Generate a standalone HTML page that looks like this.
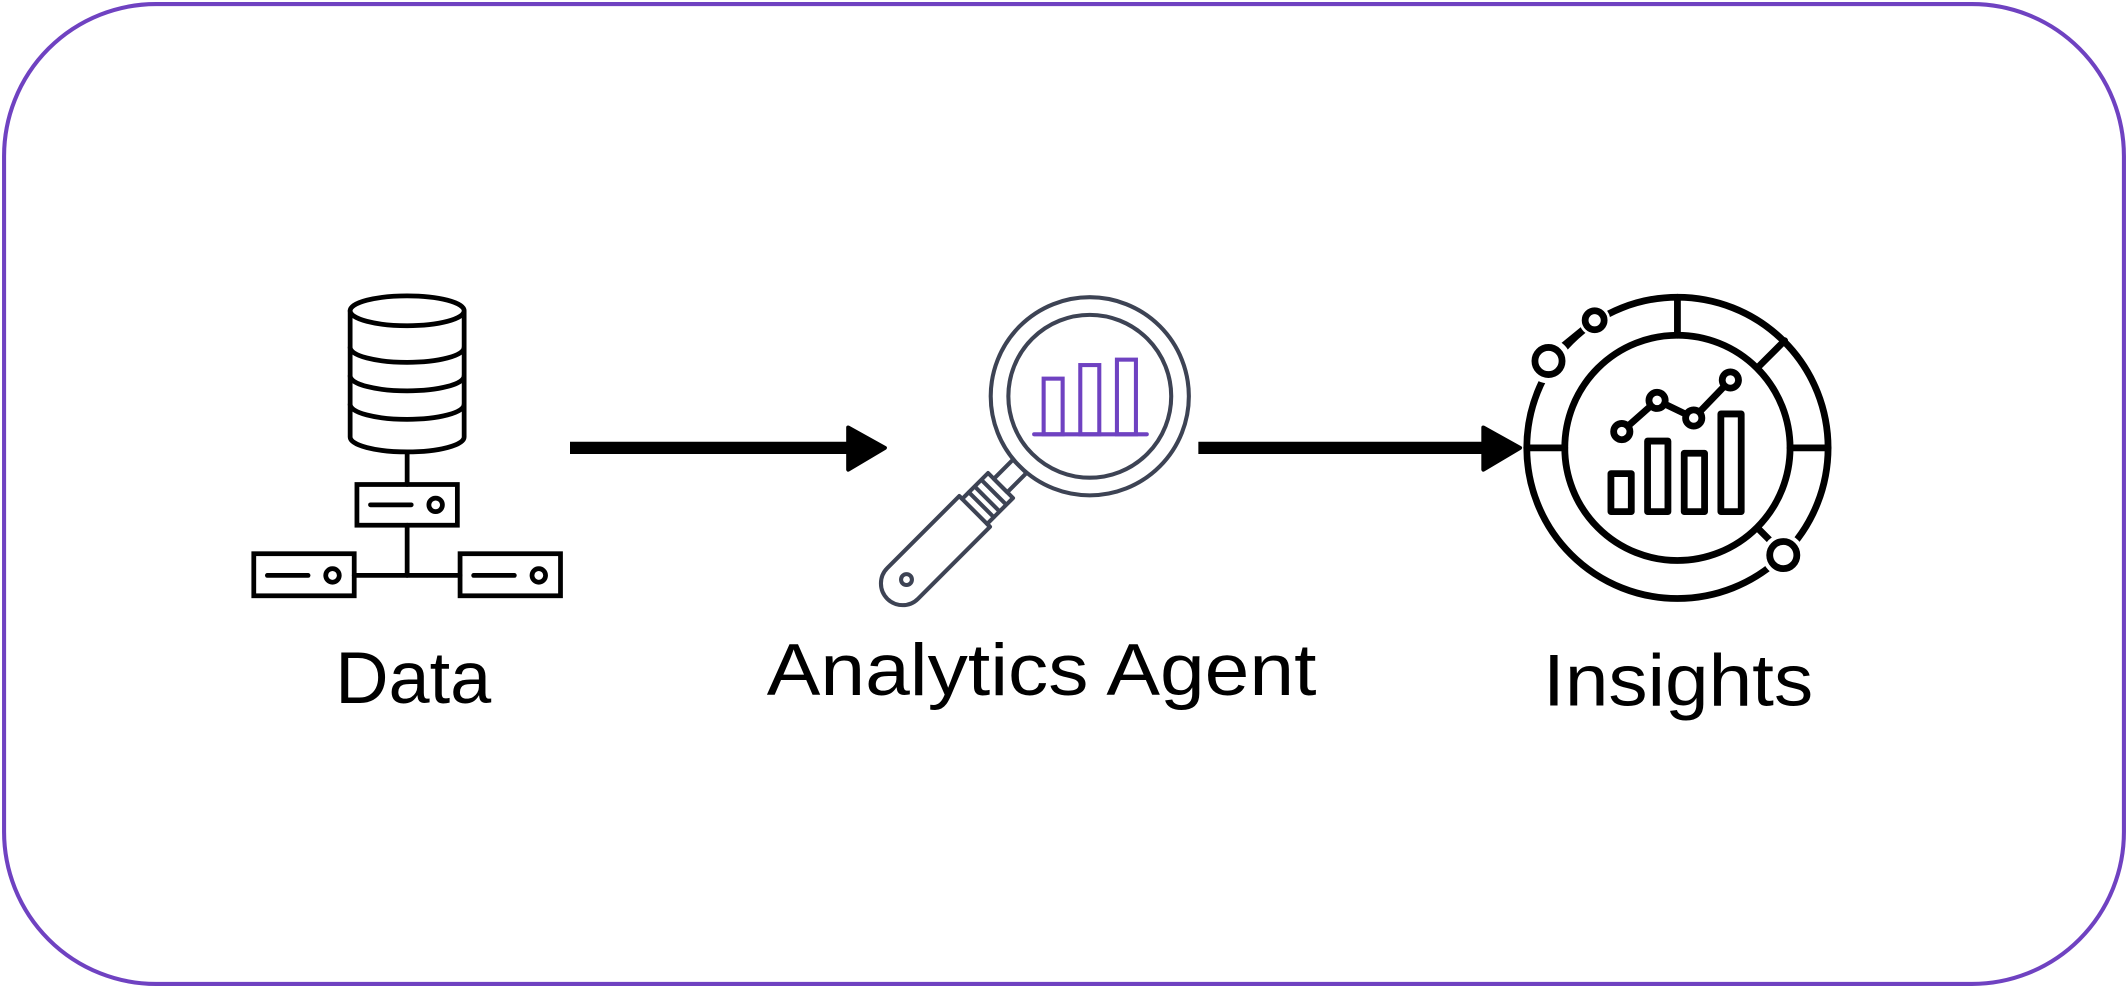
<!DOCTYPE html>
<html><head><meta charset="utf-8"><style>html,body{margin:0;padding:0;background:#fff}svg{display:block}</style></head>
<body>
<svg width="2128" height="988" viewBox="0 0 1568 728" xmlns="http://www.w3.org/2000/svg">
<rect x="3" y="3" width="1562" height="722" rx="112" fill="#fff" stroke="#6f42c1" stroke-width="3"/>
<!-- Data icon -->
<g fill="none" stroke="#000" stroke-width="3.5" stroke-linecap="round">
<path d="M258 229 V322 A42 11 0 0 0 342 322 V229"/>
<ellipse cx="300" cy="229" rx="42" ry="11" fill="#fff"/>
<path d="M258 256 A42 11 0 0 0 342 256 M258 277 A42 11 0 0 0 342 277 M258 298 A42 11 0 0 0 342 298"/>
<line x1="300" y1="334" x2="300" y2="357"/>
<rect x="263" y="357" width="74" height="30"/>
<line x1="273" y1="372" x2="303" y2="372"/><circle cx="321" cy="372" r="5"/>
<line x1="300" y1="387" x2="300" y2="424"/>
<line x1="261" y1="424" x2="339" y2="424"/>
<rect x="187" y="408" width="74" height="31"/>
<line x1="197" y1="424" x2="227" y2="424"/><circle cx="245" cy="424" r="5"/>
<rect x="339" y="408" width="74" height="31"/>
<line x1="349" y1="424" x2="379" y2="424"/><circle cx="397" cy="424" r="5"/>
</g>
<!-- arrows -->
<line x1="420" y1="330" x2="630" y2="330" stroke="#000" stroke-width="9"/>
<path d="M625 315 L652 330 L625 346 Z" fill="#000" stroke="#000" stroke-width="3" stroke-linejoin="round"/>
<line x1="883" y1="330" x2="1098" y2="330" stroke="#000" stroke-width="9"/>
<path d="M1093 315 L1120 330 L1093 346 Z" fill="#000" stroke="#000" stroke-width="3" stroke-linejoin="round"/>
<!-- magnifier -->
<g fill="none" stroke="#3d4354" stroke-width="3" stroke-linejoin="round">
<circle cx="803" cy="292" r="73"/>
<circle cx="803" cy="292" r="60"/>
<g transform="translate(803 292) rotate(135)">
<rect x="73" y="-7" width="20" height="14"/>
<rect x="93" y="-13" width="20" height="26"/>
<line x1="100" y1="-13" x2="100" y2="13"/><line x1="107" y1="-13" x2="107" y2="13"/>
<path d="M113 -13 H120 V-16 H195 A16 16 0 0 1 195 16 H120 V13 H113"/>
<line x1="120" y1="-16" x2="120" y2="16"/>
<circle cx="191" cy="0" r="4"/>
</g>
</g>
<g fill="none" stroke="#6f42c1" stroke-width="3">
<rect x="769" y="279" width="14" height="41"/>
<rect x="796" y="269" width="14" height="51"/>
<rect x="823" y="265" width="14" height="55"/>
<line x1="762" y1="320" x2="845" y2="320" stroke-linecap="round"/>
</g>
<!-- insights -->
<g fill="none" stroke="#000" stroke-width="5" stroke-linecap="round" stroke-linejoin="round">
<circle cx="1236" cy="330" r="111"/>
<circle cx="1236" cy="330" r="83"/>
<line x1="1236" y1="219" x2="1236" y2="247"/>
<line x1="1125" y1="330" x2="1153" y2="330"/>
<line x1="1319" y1="330" x2="1347" y2="330"/>
<line x1="1295" y1="271" x2="1315" y2="251"/>
<line x1="1295" y1="389" x2="1310" y2="404"/>
<line x1="1148" y1="258" x2="1170" y2="240"/>
<circle cx="1141" cy="266" r="11" fill="#fff" stroke-width="11" stroke="#fff"/>
<circle cx="1141" cy="266" r="10" fill="#fff"/>
<circle cx="1175" cy="236" r="7" fill="#fff" stroke-width="9" stroke="#fff"/>
<circle cx="1175" cy="236" r="7" fill="#fff"/>
<circle cx="1314" cy="409" r="10" fill="#fff" stroke-width="11" stroke="#fff"/>
<circle cx="1314" cy="409" r="10" fill="#fff"/>
<rect x="1187" y="349" width="15" height="28"/>
<rect x="1214" y="325" width="15" height="52"/>
<rect x="1241" y="334" width="15" height="43"/>
<rect x="1268" y="305" width="15" height="72"/>
<polyline points="1195,318 1221,295 1248,308 1275,280"/>
<circle cx="1195" cy="318" r="6" fill="#fff"/>
<circle cx="1221" cy="295" r="6" fill="#fff"/>
<circle cx="1248" cy="308" r="6" fill="#fff"/>
<circle cx="1275" cy="280" r="6" fill="#fff"/>
</g>
<g font-family="Liberation Sans, sans-serif" font-size="54" fill="#000">
<text x="247" y="518" textLength="115" lengthAdjust="spacingAndGlyphs">Data</text>
<text x="565" y="512" textLength="405" lengthAdjust="spacingAndGlyphs">Analytics Agent</text>
<text x="1137" y="520" textLength="199" lengthAdjust="spacingAndGlyphs">Insights</text>
</g>
</svg>
</body></html>
